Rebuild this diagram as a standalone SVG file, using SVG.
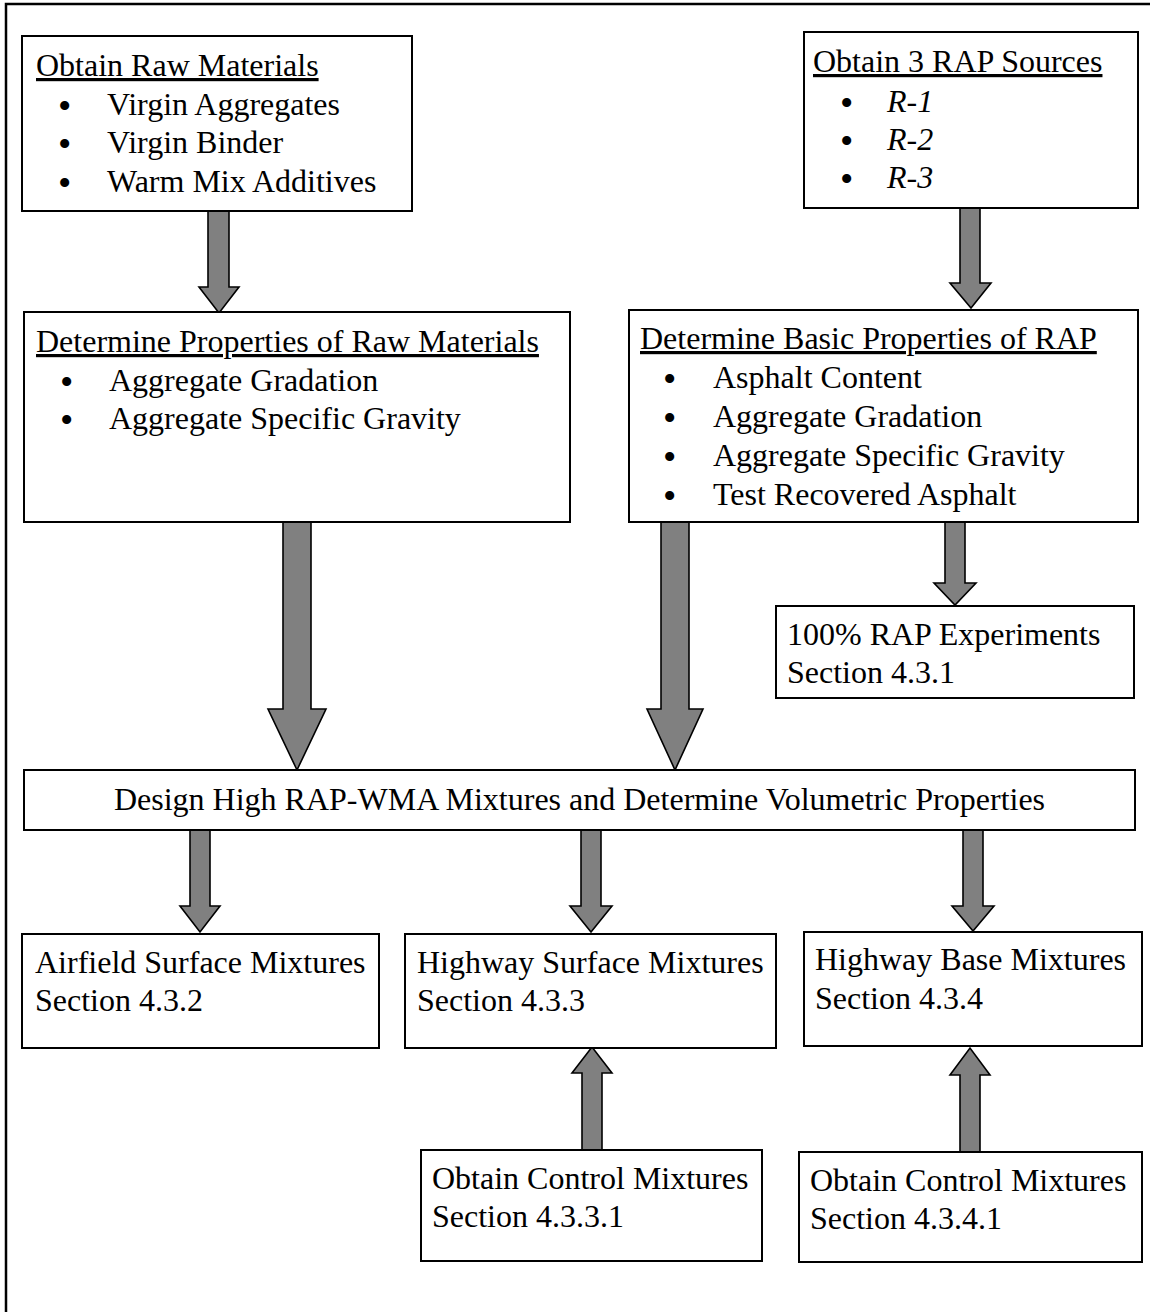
<svg xmlns="http://www.w3.org/2000/svg" width="1150" height="1312" viewBox="0 0 1150 1312">
<style>
.box{fill:#fff;stroke:#000;stroke-width:2}
.arr{fill:#808080;stroke:#000;stroke-width:1.6;stroke-linejoin:miter}
text{font-family:"Liberation Serif","Times New Roman",serif;font-size:32px;fill:#000}
.u{text-decoration:underline}
.it{font-style:italic}
.b{font-size:38px;font-style:normal}
</style>
<rect width="1150" height="1312" fill="#fff"/>
<path d="M6,1320 L6,4 L1160,4" fill="none" stroke="#000" stroke-width="2.5"/>
<g id="connectors">
<path class="arr" d="M208,211 L229,211 L229,287 L239,287 L219,313 L199,287 L208,287 Z"/>
<path class="arr" d="M960,208 L980,208 L980,283 L991,283 L971,308 L950,283 L960,283 Z"/>
<path class="arr" d="M283,522 L311,522 L311,709 L326,709 L297,770 L268,709 L283,709 Z"/>
<path class="arr" d="M661,522 L689,522 L689,709 L703,709 L675,770 L647,709 L661,709 Z"/>
<path class="arr" d="M945,522 L965,522 L965,583 L976,583 L955,605 L934,583 L945,583 Z"/>
<path class="arr" d="M190,830 L210,830 L210,906 L220,906 L200,932 L180,906 L190,906 Z"/>
<path class="arr" d="M581,830 L601,830 L601,906 L612,906 L591,932 L570,906 L581,906 Z"/>
<path class="arr" d="M963,830 L983,830 L983,906 L994,906 L973,931 L952,906 L963,906 Z"/>
<path class="arr" d="M582,1150 L602,1150 L602,1073 L612,1073 L592,1047 L572,1073 L582,1073 Z"/>
<path class="arr" d="M960,1152 L980,1152 L980,1075 L990,1075 L970,1048 L950,1075 L960,1075 Z"/>
</g>
<g id="raw">
<rect class="box" x="22" y="36" width="390" height="175"/>
<text class="u" x="36" y="76">Obtain Raw Materials</text>
<text y="115"><tspan class="b" x="58" dy="4">•</tspan><tspan x="107" dy="-4">Virgin Aggregates</tspan></text>
<text y="153"><tspan class="b" x="58" dy="4">•</tspan><tspan x="107" dy="-4">Virgin Binder</tspan></text>
<text y="192"><tspan class="b" x="58" dy="4">•</tspan><tspan x="107" dy="-4">Warm Mix Additives</tspan></text>
</g>
<g id="rap">
<rect class="box" x="804" y="32" width="334" height="176"/>
<text class="u" x="813" y="72">Obtain 3 RAP Sources</text>
<text y="112"><tspan class="b" x="840" dy="4">•</tspan><tspan class="it" x="887" dy="-4">R-1</tspan></text>
<text y="150"><tspan class="b" x="840" dy="4">•</tspan><tspan class="it" x="887" dy="-4">R-2</tspan></text>
<text y="188"><tspan class="b" x="840" dy="4">•</tspan><tspan class="it" x="887" dy="-4">R-3</tspan></text>
</g>
<g id="rawprops">
<rect class="box" x="24" y="312" width="546" height="210"/>
<text class="u" x="36" y="352">Determine Properties of Raw Materials</text>
<text y="391"><tspan class="b" x="60" dy="4">•</tspan><tspan x="109" dy="-4">Aggregate Gradation</tspan></text>
<text y="429"><tspan class="b" x="60" dy="4">•</tspan><tspan x="109" dy="-4">Aggregate Specific Gravity</tspan></text>
</g>
<g id="rapprops">
<rect class="box" x="629" y="310" width="509" height="212"/>
<text class="u" x="640" y="349">Determine Basic Properties of RAP</text>
<text y="388"><tspan class="b" x="663" dy="4">•</tspan><tspan x="713" dy="-4">Asphalt Content</tspan></text>
<text y="427"><tspan class="b" x="663" dy="4">•</tspan><tspan x="713" dy="-4">Aggregate Gradation</tspan></text>
<text y="466"><tspan class="b" x="663" dy="4">•</tspan><tspan x="713" dy="-4">Aggregate Specific Gravity</tspan></text>
<text y="505"><tspan class="b" x="663" dy="4">•</tspan><tspan x="713" dy="-4">Test Recovered Asphalt</tspan></text>
</g>
<g id="rap100">
<rect class="box" x="776" y="606" width="358" height="92"/>
<text x="787" y="645">100% RAP Experiments</text>
<text x="787" y="683">Section 4.3.1</text>
</g>
<g id="design">
<rect class="box" x="24" y="770" width="1111" height="60"/>
<text x="579.5" y="810" text-anchor="middle">Design High RAP-WMA Mixtures and Determine Volumetric Properties</text>
</g>
<g id="airfield">
<rect class="box" x="22" y="934" width="357" height="114"/>
<text x="35" y="973">Airfield Surface Mixtures</text>
<text x="35" y="1011">Section 4.3.2</text>
</g>
<g id="hwysurface">
<rect class="box" x="405" y="934" width="371" height="114"/>
<text x="417" y="973">Highway Surface Mixtures</text>
<text x="417" y="1011">Section 4.3.3</text>
</g>
<g id="hwybase">
<rect class="box" x="804" y="932" width="338" height="114"/>
<text x="815" y="970">Highway Base Mixtures</text>
<text x="815" y="1009">Section 4.3.4</text>
</g>
<g id="control1">
<rect class="box" x="421" y="1150" width="341" height="111"/>
<text x="432" y="1189">Obtain Control Mixtures</text>
<text x="432" y="1227">Section 4.3.3.1</text>
</g>
<g id="control2">
<rect class="box" x="799" y="1152" width="343" height="110"/>
<text x="810" y="1191">Obtain Control Mixtures</text>
<text x="810" y="1229">Section 4.3.4.1</text>
</g>
</svg>
